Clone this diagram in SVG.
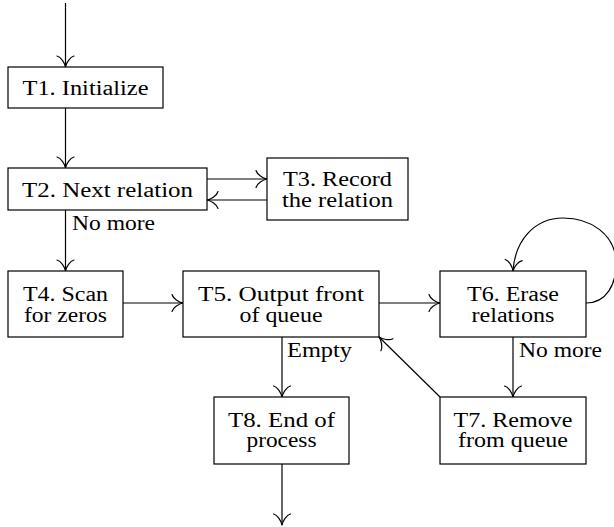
<svg xmlns="http://www.w3.org/2000/svg" width="614" height="527" viewBox="0 0 614 527" font-family="Liberation Serif, DejaVu Serif, serif">
<style>
.box{fill:#fff;stroke:#000;stroke-width:1.2}
.t{font-size:20px;fill:#000;text-anchor:middle}
.l{font-size:20px;fill:#000}
.e{fill:none;stroke:#000;stroke-width:1.2}
</style>
<defs>
<marker id="ah" markerUnits="userSpaceOnUse" viewBox="-14 -10 16 20" refX="0" refY="0" markerWidth="16" markerHeight="20" orient="auto" overflow="visible">
<path d="M-11,-8.5 C-10,-4.5 -4,-0.8 0,0 M-11,8.5 C-10,4.5 -4,0.8 0,0" fill="none" stroke="#000" stroke-width="1.2" stroke-linecap="round"/>
</marker>
</defs>
<g id="connectors">
<path class="e" d="M65.5,3 L65.5,67" marker-end="url(#ah)"/>
<path class="e" d="M65.5,108 L65.5,168" marker-end="url(#ah)"/>
<path class="e" d="M207,179 L267,179" marker-end="url(#ah)"/>
<path class="e" d="M267,200 L207,200" marker-end="url(#ah)"/>
<path class="e" d="M65.5,210 L65.5,271" marker-end="url(#ah)"/>
<text class="l" x="72" y="230" textLength="83" lengthAdjust="spacingAndGlyphs">No more</text>
<path class="e" d="M123,303 L183,303" marker-end="url(#ah)"/>
<path class="e" d="M379,303 L440,303" marker-end="url(#ah)"/>
<path class="e" d="M282,337 L282,397" marker-end="url(#ah)"/>
<text class="l" x="287" y="357" textLength="65" lengthAdjust="spacingAndGlyphs">Empty</text>
<path class="e" d="M513,337 L513,397" marker-end="url(#ah)"/>
<text class="l" x="519" y="357" textLength="83" lengthAdjust="spacingAndGlyphs">No more</text>
<path class="e" d="M440,397 L379,337" marker-end="url(#ah)"/>
<path class="e" d="M282,464 L282,525" marker-end="url(#ah)"/>
<path class="e" d="M586,303 C606,303 617,285 616,260 C614,235 592,218 563,218 C535,218 515,240 513,271" marker-end="url(#ah)"/>
</g>
<g id="T1">
<rect class="box" x="8" y="67" width="155" height="41"/>
<text class="t" x="85.5" y="95" textLength="126" lengthAdjust="spacingAndGlyphs">T1. Initialize</text>
</g>
<g id="T2">
<rect class="box" x="8" y="168" width="199" height="42"/>
<text class="t" x="107.5" y="196.5" textLength="171" lengthAdjust="spacingAndGlyphs">T2. Next relation</text>
</g>
<g id="T3">
<rect class="box" x="267" y="158" width="141" height="62"/>
<text class="t" x="337.5" y="185.5" textLength="109" lengthAdjust="spacingAndGlyphs">T3. Record</text>
<text class="t" x="337.5" y="207" textLength="111" lengthAdjust="spacingAndGlyphs">the relation</text>
</g>
<g id="T4">
<rect class="box" x="8" y="271" width="115" height="66"/>
<text class="t" x="65.5" y="300.5" textLength="85" lengthAdjust="spacingAndGlyphs">T4. Scan</text>
<text class="t" x="65.5" y="321.5" textLength="83" lengthAdjust="spacingAndGlyphs">for zeros</text>
</g>
<g id="T5">
<rect class="box" x="183" y="271" width="196" height="66"/>
<text class="t" x="281" y="300.5" textLength="166" lengthAdjust="spacingAndGlyphs">T5. Output front</text>
<text class="t" x="281" y="321.5" textLength="83" lengthAdjust="spacingAndGlyphs">of queue</text>
</g>
<g id="T6">
<rect class="box" x="440" y="271" width="146" height="66"/>
<text class="t" x="513" y="300.5" textLength="92" lengthAdjust="spacingAndGlyphs">T6. Erase</text>
<text class="t" x="513" y="321.5" textLength="83" lengthAdjust="spacingAndGlyphs">relations</text>
</g>
<g id="T7">
<rect class="box" x="440" y="397" width="146" height="67"/>
<text class="t" x="513" y="426.5" textLength="119" lengthAdjust="spacingAndGlyphs">T7. Remove</text>
<text class="t" x="513" y="447" textLength="110" lengthAdjust="spacingAndGlyphs">from queue</text>
</g>
<g id="T8">
<rect class="box" x="214" y="397" width="135" height="67"/>
<text class="t" x="281.5" y="426.5" textLength="107" lengthAdjust="spacingAndGlyphs">T8. End of</text>
<text class="t" x="281.5" y="447" textLength="70" lengthAdjust="spacingAndGlyphs">process</text>
</g>
</svg>
